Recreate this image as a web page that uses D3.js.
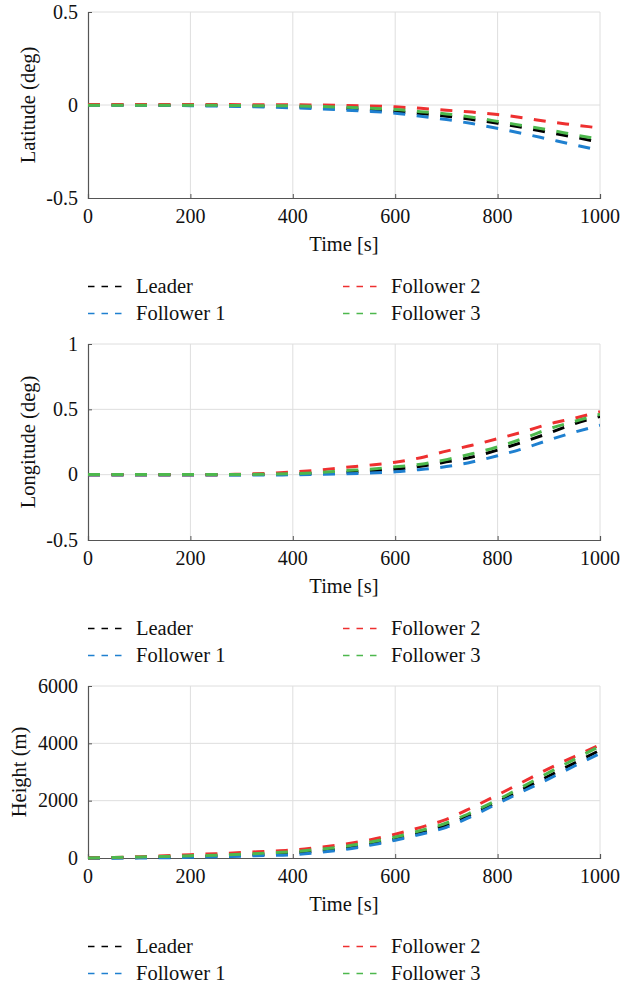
<!DOCTYPE html>
<html lang="en">
<head>
<meta charset="utf-8">
<title>Leader / follower trajectories</title>
<script src="https://d3js.org/d3.v7.min.js"></script>
<style>
    body { margin: 0; background: #fff; }
    svg { display: block; }
</style>
</head>
<body>
<div id="chart"></div>
<script>
    // sample times (s)
    var times = [0, 50, 100, 150, 200, 250, 300, 350, 400, 450, 500,
                 550, 600, 650, 700, 750, 800, 850, 900, 950, 1000];
    var xTicks = [0, 200, 400, 600, 800, 1000];

    var seriesNames = ["Leader", "Follower 1", "Follower 2", "Follower 3"];
    var seriesColors = ["#000000", "#1f80d0", "#ee3030", "#4db84d"];

    // latitude (deg)
    var latLeader = [0, 0, 0, -0.001, -0.002, -0.003, -0.005, -0.007, -0.01, -0.013, -0.018,
                     -0.025, -0.035, -0.046, -0.06, -0.078, -0.098, -0.121, -0.148, -0.173, -0.2];
    var latF1 = [0, -0.001, -0.001, -0.002, -0.004, -0.006, -0.008, -0.011, -0.015, -0.02, -0.027,
                 -0.034, -0.044, -0.061, -0.078, -0.1, -0.126, -0.154, -0.184, -0.214, -0.245];
    var latF2 = [0.003, 0.003, 0.003, 0.003, 0.003, 0.003, 0.002, 0.002, 0.001, 0, -0.002,
                 -0.005, -0.01, -0.018, -0.028, -0.038, -0.051, -0.069, -0.09, -0.107, -0.124];
    var latF3 = [-0.002, -0.002, -0.002, -0.002, -0.002, -0.002, -0.003, -0.004, -0.005, -0.008, -0.012,
                 -0.017, -0.024, -0.036, -0.048, -0.066, -0.088, -0.111, -0.134, -0.16, -0.185];

    // longitude (deg)
    var lonLeader = [0, 0, 0, 0, 0, 0, 0, 0.002, 0.005, 0.01, 0.018,
                     0.028, 0.042, 0.064, 0.098, 0.135, 0.188, 0.25, 0.318, 0.39, 0.445];
    var lonF1 = [-0.002, -0.002, -0.002, -0.002, -0.002, -0.002, -0.002, -0.002, -0.001, 0.002, 0.006,
                 0.012, 0.022, 0.04, 0.062, 0.097, 0.145, 0.2, 0.265, 0.325, 0.378];
    var lonF2 = [0, 0, 0, 0, 0, 0, 0.004, 0.01, 0.02, 0.035, 0.055,
                 0.073, 0.095, 0.13, 0.18, 0.225, 0.275, 0.328, 0.387, 0.432, 0.481];
    var lonF3 = [0.001, 0.001, 0.001, 0.001, 0.001, 0.001, 0.001, 0.004, 0.008, 0.016, 0.03,
                 0.042, 0.06, 0.08, 0.115, 0.16, 0.213, 0.277, 0.35, 0.408, 0.462];

    // height (m)
    var hLeader = [0, 5, 15, 30, 45, 65, 90, 130, 175, 240, 330,
                   480, 660, 880, 1150, 1530, 1960, 2410, 2860, 3310, 3760];
    var hF1 = [-5, -5, 0, 10, 25, 40, 65, 90, 115, 190, 290,
               440, 620, 830, 1070, 1460, 1900, 2330, 2760, 3210, 3650];
    var hF2 = [0, 20, 45, 75, 115, 150, 190, 235, 280, 370, 480,
               630, 830, 1070, 1350, 1760, 2200, 2660, 3120, 3540, 3950];
    var hF3 = [0, 15, 35, 55, 80, 100, 130, 175, 220, 300, 400,
               550, 730, 960, 1220, 1600, 2030, 2500, 2980, 3440, 3900];

    var panels = [
        { top: 12, bottom: 198, label: "Latitude (deg)", labelX: 35,
          domain: [-0.5, 0.5], ticks: [-0.5, 0, 0.5], tickText: ["-0.5", "0", "0.5"],
          series: [latLeader, latF1, latF2, latF3] },
        { top: 344, bottom: 540, label: "Longitude (deg)", labelX: 35,
          domain: [-0.5, 1], ticks: [-0.5, 0, 0.5, 1], tickText: ["-0.5", "0", "0.5", "1"],
          series: [lonLeader, lonF1, lonF2, lonF3] },
        { top: 686, bottom: 858, label: "Height (m)", labelX: 26,
          domain: [0, 6000], ticks: [0, 2000, 4000, 6000], tickText: ["0", "2000", "4000", "6000"],
          series: [hLeader, hF1, hF2, hF3] }
    ];

    var W = 620, H = 988;
    var left = 88, right = 600;
    var serif = "'Liberation Serif', 'DejaVu Serif', serif";

    var svg = d3.select("#chart").append("svg")
        .attr("width", W)
        .attr("height", H)
        .attr("font-family", serif);

    var x = d3.scaleLinear().domain([0, 1000]).range([left, right]);

    function label(sel, size) {
        return sel.style("font-family", serif)
            .attr("font-size", size)
            .attr("fill", "#111");
    }

    panels.forEach(function (p, pi) {
        var y = d3.scaleLinear().domain(p.domain).range([p.bottom, p.top]);
        var g = svg.append("g");

        var clipId = "clip" + pi;
        g.append("clipPath").attr("id", clipId)
            .append("rect")
            .attr("x", left).attr("y", p.top - 2)
            .attr("width", right - left).attr("height", p.bottom - p.top + 4);

        // grid
        g.append("g").selectAll("line").data(xTicks.slice(1)).join("line")
            .attr("x1", function (d) { return x(d); }).attr("x2", function (d) { return x(d); })
            .attr("y1", p.top).attr("y2", p.bottom)
            .attr("stroke", "#dedede").attr("stroke-width", 1);
        g.append("g").selectAll("line").data(p.ticks.slice(1)).join("line")
            .attr("x1", left).attr("x2", right)
            .attr("y1", function (d) { return y(d); }).attr("y2", function (d) { return y(d); })
            .attr("stroke", "#dedede").attr("stroke-width", 1);

        // axes (ticks inside, labels drawn separately)
        var xAxis = g.append("g")
            .attr("transform", "translate(0," + p.bottom + ")")
            .call(d3.axisBottom(x).tickValues(xTicks).tickSize(-4).tickFormat(""));
        var yAxis = g.append("g")
            .attr("transform", "translate(" + left + ",0)")
            .call(d3.axisLeft(y).tickValues(p.ticks).tickSize(-4).tickFormat(""));
        [xAxis, yAxis].forEach(function (a) {
            a.select(".domain").attr("stroke", "#555").attr("stroke-width", 1.2);
            a.selectAll(".tick line").attr("stroke", "#555");
        });

        label(g.append("g").selectAll("text").data(xTicks).join("text"), 20)
            .attr("x", function (d) { return x(d); })
            .attr("y", p.bottom + 24.5)
            .attr("text-anchor", "middle")
            .text(function (d) { return d; });

        label(g.append("g").selectAll("text").data(p.ticks).join("text"), 20)
            .attr("x", left - 10)
            .attr("y", function (d) { return y(d) + 6.5; })
            .attr("text-anchor", "end")
            .text(function (d, i) { return p.tickText[i]; });

        label(g.append("text"), 20.5)
            .attr("transform", "translate(" + p.labelX + "," + ((p.top + p.bottom) / 2) + ") rotate(-90)")
            .attr("text-anchor", "middle")
            .text(p.label);

        label(g.append("text"), 20.5)
            .attr("x", (left + right) / 2)
            .attr("y", p.bottom + 52.5)
            .attr("text-anchor", "middle")
            .text("Time [s]");

        // series
        var line = d3.line()
            .x(function (d, i) { return x(times[i]); })
            .y(function (d) { return y(d); })
            .curve(d3.curveMonotoneX);

        g.append("g").attr("clip-path", "url(#" + clipId + ")")
            .selectAll("path").data(p.series).join("path")
            .attr("d", line)
            .attr("fill", "none")
            .attr("stroke", function (d, i) { return seriesColors[i]; })
            .attr("stroke-width", 3)
            .attr("stroke-dasharray", "12,11.5");

        // legend
        var ly = p.bottom + 88.5;
        var leg = g.append("g").selectAll("g").data(seriesNames).join("g")
            .attr("transform", function (d, i) {
                var col = i < 2 ? 0 : 1;
                var row = i % 2;
                return "translate(" + (col ? 343 : 88) + "," + (ly + row * 27) + ")";
            });
        leg.append("line")
            .attr("x1", 0).attr("x2", 34)
            .attr("stroke", function (d, i) { return seriesColors[i]; })
            .attr("stroke-width", 1.5)
            .attr("stroke-dasharray", "6.5,7");
        label(leg.append("text"), 20.5)
            .attr("x", 48)
            .attr("y", 6)
            .text(function (d) { return d; });
    });
</script>
</body>
</html>
